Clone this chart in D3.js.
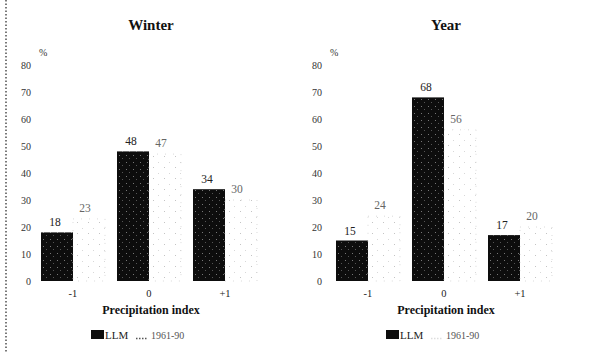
<!DOCTYPE html>
<html>
<head>
<meta charset="utf-8">
<script src="https://cdn.jsdelivr.net/npm/d3@7"></script>
<style>
  html, body { margin: 0; padding: 0; background: #fff; }
  svg { display: block; font-family: "Liberation Serif", "DejaVu Serif", serif; }
</style>
</head>
<body>
<svg id="chart" width="606" height="352"></svg>
<script>
// Share of cases (%) per precipitation index class
const categories = ["-1", "0", "+1"];
const seriesNames = ["LLM", "1961-90"];
const panelTitles = ["Winter", "Year"];
const winterLLM = [18, 48, 34];
const winter6190 = [23, 47, 30];
const yearLLM = [15, 68, 17];
const year6190 = [24, 56, 20];
const yTicks = [0, 10, 20, 30, 40, 50, 60, 70, 80];

const panels = [
  { title: panelTitles[0], llm: winterLLM, ref: winter6190, x0: 35, axisX: 31 },
  { title: panelTitles[1], llm: yearLLM, ref: year6190, x0: 330, axisX: 322 }
];

const svg = d3.select("#chart");
const defs = svg.append("defs");

// Black fill with a few scattered light specks
const pDark = defs.append("pattern").attr("id", "darkDots")
  .attr("patternUnits", "userSpaceOnUse").attr("width", 7).attr("height", 7);
pDark.append("rect").attr("width", 7).attr("height", 7).attr("fill", "#0d0d0d");
pDark.append("rect").attr("x", 2).attr("y", 1).attr("width", 1).attr("height", 1).attr("fill", "#777");
pDark.append("rect").attr("x", 5).attr("y", 4).attr("width", 1).attr("height", 1).attr("fill", "#555");

// Very light, sparse dotted fill
const pLight = defs.append("pattern").attr("id", "lightDots")
  .attr("patternUnits", "userSpaceOnUse").attr("width", 11).attr("height", 11);
pLight.append("rect").attr("x", 3).attr("y", 2).attr("width", 1).attr("height", 1).attr("fill", "#c4c4c4");
pLight.append("rect").attr("x", 8).attr("y", 8).attr("width", 1).attr("height", 1).attr("fill", "#d8d8d8");

// Dotted frame line on the left edge
svg.append("line")
  .attr("x1", 6).attr("x2", 6).attr("y1", 0).attr("y2", 352)
  .attr("stroke", "#222").attr("stroke-width", 1.2)
  .attr("stroke-dasharray", "1.5,2");

const y = d3.scaleLinear().domain([0, 80]).range([281, 65]);

panels.forEach(p => {
  const g = svg.append("g");
  const x = d3.scaleBand().domain(categories)
    .range([p.x0, p.x0 + 228])
    .paddingInner(0.158).paddingOuter(0.079);
  const xs = d3.scaleBand().domain(seriesNames).range([0, x.bandwidth()]);

  const titleX = x.range()[0] + (x.range()[1] - x.range()[0]) / 2 + 2;

  g.append("text").attr("x", titleX).attr("y", 30)
    .attr("text-anchor", "middle").attr("font-size", 15).attr("font-weight", "bold")
    .attr("fill", "#111").text(p.title);

  // Y axis: labels only
  const yAxis = d3.axisLeft(y).tickValues(yTicks).tickSize(0).tickPadding(0);
  const ya = g.append("g").attr("transform", `translate(${p.axisX},0)`).call(yAxis);
  ya.attr("font-family", null);
  ya.select(".domain").remove();
  ya.selectAll("text").attr("font-size", 10).attr("fill", "#333");

  g.append("text").attr("x", p.axisX + 8).attr("y", y(80) - 9)
    .attr("font-size", 10).attr("fill", "#333").text("%");

  const groups = g.selectAll(".grp").data(categories).join("g")
    .attr("transform", c => `translate(${x(c)},0)`);

  // LLM bars
  groups.append("rect")
    .attr("x", xs("LLM")).attr("width", xs.bandwidth())
    .attr("y", (c, i) => y(p.llm[i]))
    .attr("height", (c, i) => y(0) - y(p.llm[i]))
    .attr("fill", "url(#darkDots)");

  // 1961-90 bars
  groups.append("rect")
    .attr("x", xs("1961-90")).attr("width", xs.bandwidth())
    .attr("y", (c, i) => y(p.ref[i]))
    .attr("height", (c, i) => y(0) - y(p.ref[i]))
    .attr("fill", "url(#lightDots)")
    .attr("stroke", "#d0d0d0").attr("stroke-width", 0.8)
    .attr("stroke-dasharray", "1,7");

  // Value labels
  groups.append("text")
    .attr("x", xs("LLM") + xs.bandwidth() / 2 - 2)
    .attr("y", (c, i) => y(p.llm[i]) - 6)
    .attr("text-anchor", "middle").attr("font-size", 11.5).attr("fill", "#222")
    .text((c, i) => p.llm[i]);
  groups.append("text")
    .attr("x", xs("1961-90") + xs.bandwidth() / 2 - 4)
    .attr("y", (c, i) => y(p.ref[i]) - 7)
    .attr("text-anchor", "middle").attr("font-size", 11.5).attr("fill", "#666")
    .text((c, i) => p.ref[i]);

  // Category labels under the bar pairs
  groups.append("text")
    .attr("x", x.bandwidth() / 2)
    .attr("y", 297)
    .attr("text-anchor", "middle").attr("font-size", 10.5).attr("fill", "#222")
    .text(c => c);

  g.append("text").attr("x", titleX).attr("y", 314)
    .attr("text-anchor", "middle").attr("font-size", 12).attr("font-weight", "bold")
    .attr("fill", "#111").text("Precipitation index");

  // Legend
  const lg = g.append("g").attr("transform", `translate(${titleX - 60},330)`);
  lg.append("rect").attr("x", 0).attr("y", 0).attr("width", 13).attr("height", 9).attr("fill", "#0d0d0d");
  lg.append("text").attr("x", 14).attr("y", 9).attr("font-size", 11).attr("fill", "#222").text(seriesNames[0]);
  lg.append("line").attr("x1", 45).attr("x2", 57).attr("y1", 8.5).attr("y2", 8.5)
    .attr("stroke", p.title === "Winter" ? "#555" : "#ddd").attr("stroke-width", 1.5)
    .attr("stroke-dasharray", "1.5,1.5");
  lg.append("text").attr("x", 60).attr("y", 9).attr("font-size", 10).attr("fill", "#555").text(seriesNames[1]);
});
</script>
</body>
</html>
